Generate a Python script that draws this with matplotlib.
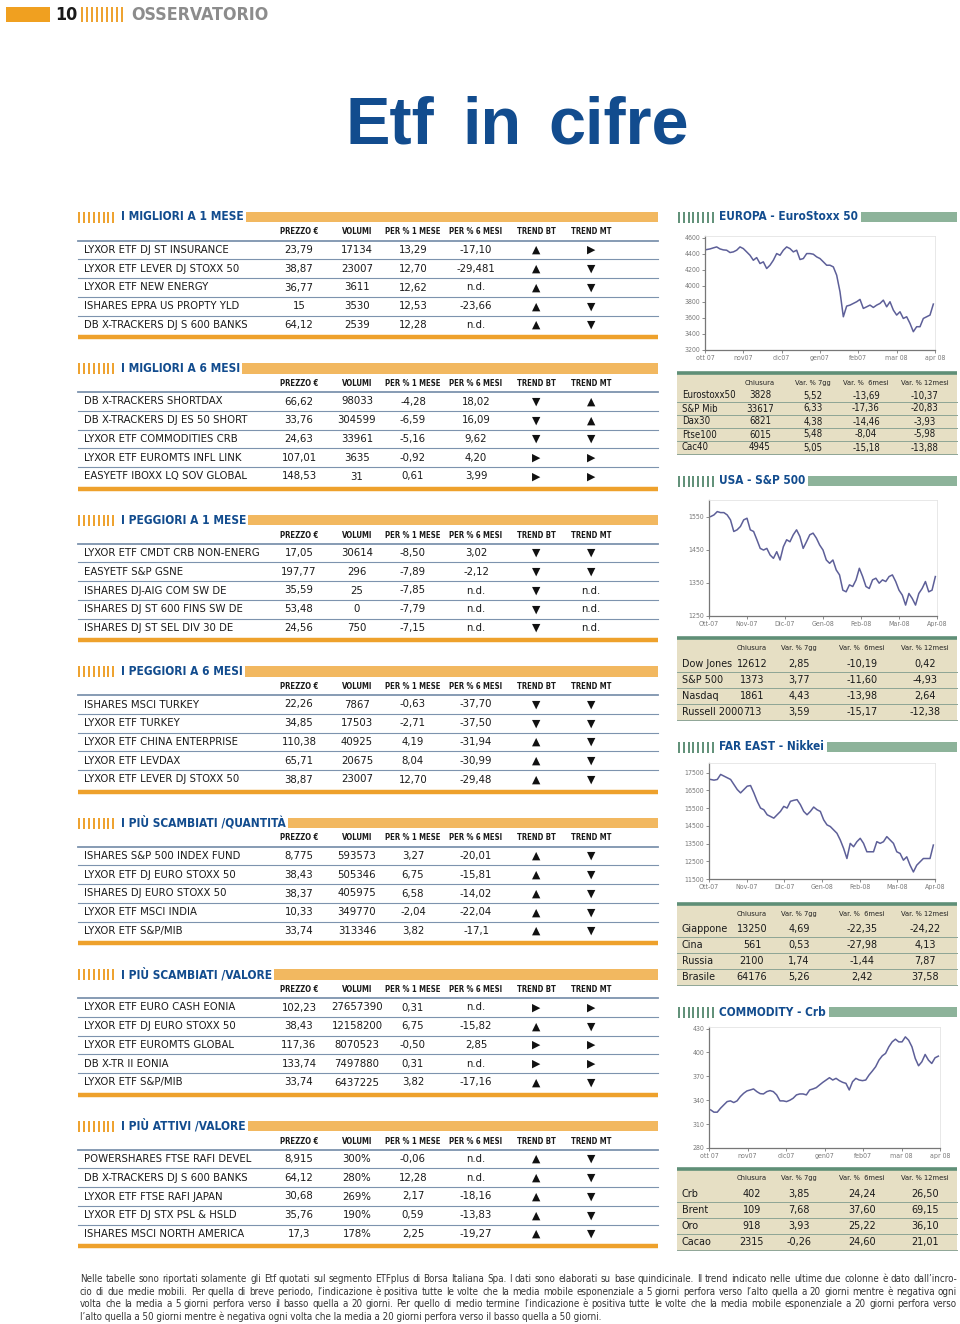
import matplotlib
matplotlib.use("Agg")
import matplotlib.pyplot as plt
from matplotlib import font_manager as fm
from matplotlib.patches import Rectangle
import numpy as np

W, H = 960, 1324
BLU = "#124c8e"
ARANCIO = "#eea12c"
ARANCIO_CHIARO = "#f2b860"
VERDE = "#8db39a"
VERDE_SCURO = "#5f8f77"
BEIGE = "#e6dfc4"
RIGA_BLU = "#7d93ae"
LINEA = "#5d5f98"

# font stretto: il primo disponibile
_nomi = {f.name for f in fm.fontManager.ttflist}
if "Liberation Sans Narrow" in _nomi:
    STRETTO = dict(family="Liberation Sans Narrow")
elif any(f.name == "DejaVu Sans" and f.stretch == "condensed" for f in fm.fontManager.ttflist):
    STRETTO = dict(family="DejaVu Sans", stretch="condensed")
else:
    STRETTO = dict(family="Liberation Sans")

# --- tabelle ETF (nome, prezzo, volumi, 1 mese, 6 mesi, trend bt, trend mt) ---
titoli_sezioni = ["I MIGLIORI A 1 MESE", "I MIGLIORI A 6 MESI", "I PEGGIORI A 1 MESE",
                  "I PEGGIORI A 6 MESI", "I PIÙ SCAMBIATI /QUANTITÀ",
                  "I PIÙ SCAMBIATI /VALORE", "I PIÙ ATTIVI /VALORE"]
intestazioni = ["PREZZO €", "VOLUMI", "PER % 1 MESE", "PER % 6 MESI", "TREND BT", "TREND MT"]

migliori_1_mese = [
    ("LYXOR ETF DJ ST INSURANCE", "23,79", "17134", "13,29", "-17,10", "su", "dx"),
    ("LYXOR ETF LEVER DJ STOXX 50", "38,87", "23007", "12,70", "-29,481", "su", "giu"),
    ("LYXOR ETF NEW ENERGY", "36,77", "3611", "12,62", "n.d.", "su", "giu"),
    ("ISHARES EPRA US PROPTY YLD", "15", "3530", "12,53", "-23,66", "su", "giu"),
    ("DB X-TRACKERS DJ S 600 BANKS", "64,12", "2539", "12,28", "n.d.", "su", "giu"),
]
migliori_6_mesi = [
    ("DB X-TRACKERS SHORTDAX", "66,62", "98033", "-4,28", "18,02", "giu", "su"),
    ("DB X-TRACKERS DJ ES 50 SHORT", "33,76", "304599", "-6,59", "16,09", "giu", "su"),
    ("LYXOR ETF COMMODITIES CRB", "24,63", "33961", "-5,16", "9,62", "giu", "giu"),
    ("LYXOR ETF EUROMTS INFL LINK", "107,01", "3635", "-0,92", "4,20", "dx", "dx"),
    ("EASYETF IBOXX LQ SOV GLOBAL", "148,53", "31", "0,61", "3,99", "dx", "dx"),
]
peggiori_1_mese = [
    ("LYXOR ETF CMDT CRB NON-ENERG", "17,05", "30614", "-8,50", "3,02", "giu", "giu"),
    ("EASYETF S&P GSNE", "197,77", "296", "-7,89", "-2,12", "giu", "giu"),
    ("ISHARES DJ-AIG COM SW DE", "35,59", "25", "-7,85", "n.d.", "giu", "nd"),
    ("ISHARES DJ ST 600 FINS SW DE", "53,48", "0", "-7,79", "n.d.", "giu", "nd"),
    ("ISHARES DJ ST SEL DIV 30 DE", "24,56", "750", "-7,15", "n.d.", "giu", "nd"),
]
peggiori_6_mesi = [
    ("ISHARES MSCI TURKEY", "22,26", "7867", "-0,63", "-37,70", "giu", "giu"),
    ("LYXOR ETF TURKEY", "34,85", "17503", "-2,71", "-37,50", "giu", "giu"),
    ("LYXOR ETF CHINA ENTERPRISE", "110,38", "40925", "4,19", "-31,94", "su", "giu"),
    ("LYXOR ETF LEVDAX", "65,71", "20675", "8,04", "-30,99", "su", "giu"),
    ("LYXOR ETF LEVER DJ STOXX 50", "38,87", "23007", "12,70", "-29,48", "su", "giu"),
]
scambiati_quantita = [
    ("ISHARES S&P 500 INDEX FUND", "8,775", "593573", "3,27", "-20,01", "su", "giu"),
    ("LYXOR ETF DJ EURO STOXX 50", "38,43", "505346", "6,75", "-15,81", "su", "giu"),
    ("ISHARES DJ EURO STOXX 50", "38,37", "405975", "6,58", "-14,02", "su", "giu"),
    ("LYXOR ETF MSCI INDIA", "10,33", "349770", "-2,04", "-22,04", "su", "giu"),
    ("LYXOR ETF S&P/MIB", "33,74", "313346", "3,82", "-17,1", "su", "giu"),
]
scambiati_valore = [
    ("LYXOR ETF EURO CASH EONIA", "102,23", "27657390", "0,31", "n.d.", "dx", "dx"),
    ("LYXOR ETF DJ EURO STOXX 50", "38,43", "12158200", "6,75", "-15,82", "su", "giu"),
    ("LYXOR ETF EUROMTS GLOBAL", "117,36", "8070523", "-0,50", "2,85", "dx", "dx"),
    ("DB X-TR II EONIA", "133,74", "7497880", "0,31", "n.d.", "dx", "dx"),
    ("LYXOR ETF S&P/MIB", "33,74", "6437225", "3,82", "-17,16", "su", "giu"),
]
attivi_valore = [
    ("POWERSHARES FTSE RAFI DEVEL", "8,915", "300%", "-0,06", "n.d.", "su", "giu"),
    ("DB X-TRACKERS DJ S 600 BANKS", "64,12", "280%", "12,28", "n.d.", "su", "giu"),
    ("LYXOR ETF FTSE RAFI JAPAN", "30,68", "269%", "2,17", "-18,16", "su", "giu"),
    ("LYXOR ETF DJ STX PSL & HSLD", "35,76", "190%", "0,59", "-13,83", "su", "giu"),
    ("ISHARES MSCI NORTH AMERICA", "17,3", "178%", "2,25", "-19,27", "su", "giu"),
]
simboli = {"su": "▲", "giu": "▼", "dx": "▶", "nd": "n.d."}

# --- indici (nome, chiusura, var 7gg, var 6 mesi, var 12 mesi) ---
intest_indici = ["Chiusura", "Var. % 7gg", "Var. %  6mesi", "Var. % 12mesi"]
europa_righe = [
    ("Eurostoxx50", "3828", "5,52", "-13,69", "-10,37"),
    ("S&P Mib", "33617", "6,33", "-17,36", "-20,83"),
    ("Dax30", "6821", "4,38", "-14,46", "-3,93"),
    ("Ftse100", "6015", "5,48", "-8,04", "-5,98"),
    ("Cac40", "4945", "5,05", "-15,18", "-13,88"),
]
usa_righe = [
    ("Dow Jones", "12612", "2,85", "-10,19", "0,42"),
    ("S&P 500", "1373", "3,77", "-11,60", "-4,93"),
    ("Nasdaq", "1861", "4,43", "-13,98", "2,64"),
    ("Russell 2000", "713", "3,59", "-15,17", "-12,38"),
]
fareast_righe = [
    ("Giappone", "13250", "4,69", "-22,35", "-24,22"),
    ("Cina", "561", "0,53", "-27,98", "4,13"),
    ("Russia", "2100", "1,74", "-1,44", "7,87"),
    ("Brasile", "64176", "5,26", "2,42", "37,58"),
]
commodity_righe = [
    ("Crb", "402", "3,85", "24,24", "26,50"),
    ("Brent", "109", "7,68", "37,60", "69,15"),
    ("Oro", "918", "3,93", "25,22", "36,10"),
    ("Cacao", "2315", "-0,26", "24,60", "21,01"),
]

# --- serie dei grafici (ott 07 - apr 08) ---
eurostoxx_valori = [4451, 4459, 4472, 4484, 4459, 4447, 4443, 4414, 4422, 4443, 4484, 4463,
                    4422, 4380, 4318, 4351, 4277, 4298, 4215, 4256, 4318, 4401, 4380, 4443,
                    4484, 4463, 4422, 4443, 4327, 4339, 4401, 4401, 4393, 4360, 4339, 4298,
                    4256, 4256, 4235, 4132, 3925, 3614, 3747, 3759, 3780, 3801, 3830, 3718,
                    3738, 3759, 3730, 3759, 3780, 3821, 3738, 3801, 3697, 3635, 3676, 3593,
                    3614, 3531, 3428, 3490, 3490, 3593, 3614, 3635, 3772]
sp500_valori = [1550, 1555, 1565, 1562, 1562, 1555, 1540, 1505, 1510, 1520, 1540, 1545,
                1510, 1505, 1480, 1454, 1449, 1454, 1434, 1424, 1444, 1419, 1459, 1480,
                1474, 1495, 1510, 1490, 1454, 1474, 1495, 1500, 1485, 1464, 1449, 1419,
                1409, 1419, 1389, 1374, 1328, 1323, 1344, 1339, 1359, 1394, 1369, 1339,
                1333, 1359, 1364, 1349, 1359, 1354, 1369, 1374, 1354, 1328, 1313, 1283,
                1318, 1303, 1283, 1318, 1333, 1354, 1323, 1328, 1369]
nikkei_valori = [17120, 17082, 17120, 17405, 17310, 17215, 17120, 16835, 16551, 16361, 16551,
                 16740, 16778, 16361, 15886, 15506, 15411, 15127, 15031, 14936, 15127, 15316,
                 15601, 15506, 15886, 15943, 15981, 15696, 15316, 15127, 15316, 15563, 15411,
                 15316, 14841, 14557, 14462, 14272, 14082, 13702, 13227, 12657, 13512, 13322,
                 13607, 13797, 13512, 13037, 13037, 13037, 13607, 13512, 13607, 13892, 13702,
                 13512, 13037, 12942, 12563, 12753, 12278, 11898, 12278, 12468, 12657, 12657,
                 12657, 13417]
crb_valori = [327.9, 325.0, 325.0, 330.0, 334.2, 338.3, 339.2, 337.1, 339.2, 344.6, 348.7,
              351.7, 352.9, 354.2, 350.8, 348.3, 347.9, 350.8, 352.1, 350.8, 346.7, 339.2,
              339.2, 338.3, 340.0, 342.5, 346.7, 347.9, 347.9, 346.7, 352.9, 354.2, 355.8,
              359.2, 362.5, 365.4, 368.3, 365.4, 367.5, 364.6, 362.5, 361.2, 352.9, 363.3,
              367.5, 365.4, 364.6, 365.4, 371.7, 376.7, 382.1, 390.4, 395.8, 398.8, 407.1,
              413.3, 416.7, 413.3, 413.3, 419.6, 415.4, 407.1, 392.5, 383.3, 388.3, 397.5,
              390.4, 386.2, 393.3, 395.4]
mesi_a = ["ott 07", "nov07", "dic07", "gen07", "feb07", "mar 08", "apr 08"]
mesi_b = ["Ott-07", "Nov-07", "Dic-07", "Gen-08", "Feb-08", "Mar-08", "Apr-08"]

nota = [
    "Nelle tabelle sono riportati solamente gli Etf quotati sul segmento ETFplus di Borsa Italiana Spa. I dati sono elaborati su base quindicinale. Il trend indicato nelle ultime due colonne è dato dall’incro-",
    "cio di due medie mobili. Per quella di breve periodo, l’indicazione è positiva tutte le volte che la media mobile esponenziale a 5 giorni perfora verso l’alto quella a 20 giorni mentre è negativa ogni",
    "volta che la media a 5 giorni perfora verso il basso quella a 20 giorni. Per quello di medio termine l’indicazione è positiva tutte le volte che la media mobile esponenziale a  20 giorni perfora verso",
    "l’alto quella a 50 giorni mentre è negativa ogni volta che la media a 20 giorni perfora verso il basso quella a 50 giorni.",
]

fig = plt.figure(figsize=(W / 100, H / 100), dpi=100)
ax = fig.add_axes([0, 0, 1, 1])
ax.set_xlim(0, W)
ax.set_ylim(H, 0)
ax.axis("off")
renderer = fig.canvas.get_renderer()


def larghezza(t):
    return t.get_window_extent(renderer).width


def taglia(testo, target, **kw):
    # corpo del font che dà al testo la larghezza voluta in pixel
    t = ax.text(0, 0, testo, fontsize=10, **STRETTO, **kw)
    w = larghezza(t)
    t.remove()
    return 10 * target / w


FS_NOME = taglia("LYXOR ETF DJ ST INSURANCE", 145)
FS_TIT = taglia("I MIGLIORI A 1 MESE", 122, weight="bold")
FS_INT = taglia("PER % 1 MESE", 56, weight="bold")
FS_DX_TIT = taglia("EUROPA - EuroStoxx 50", 138, weight="bold")
FS_EU = taglia("Eurostoxx50", 54)
FS_US = taglia("Dow Jones", 50)
FS_INT_DX = taglia("Chiusura", 30)
FS_NOTA = taglia(nota[3], 523)
FS_OSS = taglia("OSSERVATORIO", 137, weight="bold")


def barrette(x0, yc, n, colore, passo=4.9, alto=5.5):
    for k in range(n):
        ax.plot([x0 + k * passo] * 2, [yc - alto, yc + alto], color=colore, lw=1.4,
                solid_capstyle="butt")


# --- testata ---
ax.add_patch(Rectangle((6, 7), 44, 15, color="#f0a020", lw=0))
ax.text(55, 15, "10", **STRETTO, weight="bold", fontsize=FS_OSS, color="#1a1a1a", va="center")
barrette(82, 14.5, 9, ARANCIO, passo=5.0, alto=7.5)
ax.text(131, 15, "OSSERVATORIO", **STRETTO, weight="bold", fontsize=FS_OSS, color="#8c8c8c",
        va="center")

for parola, xp in [("Etf", 346), ("in", 462), ("cifre", 548)]:
    ax.text(xp, 127, parola, family="Liberation Sans", weight="bold", fontsize=48, color=BLU,
            va="center", ha="left")

# --- tabelle di sinistra ---
sezioni = [migliori_1_mese, migliori_6_mesi, peggiori_1_mese, peggiori_6_mesi,
           scambiati_quantita, scambiati_valore, attivi_valore]
col_x = [299, 357, 413, 476, 536, 591]

for s, (titolo, righe) in enumerate(zip(titoli_sezioni, sezioni)):
    y0 = 217 + s * 151.5
    barrette(79, y0, 8, ARANCIO)
    t = ax.text(121, y0, titolo, **STRETTO, weight="bold", fontsize=FS_TIT, color=BLU,
                va="center")
    xb = 121 + larghezza(t) + 2
    ax.add_patch(Rectangle((xb, y0 - 5.5), 658 - xb, 10.5, color=ARANCIO_CHIARO, lw=0))
    for c, testo in enumerate(intestazioni):
        ax.text(col_x[c], y0 + 15, testo, **STRETTO, weight="bold", fontsize=FS_INT,
                color="#1a1a1a", ha="center", va="center")
    ax.plot([78, 658], [y0 + 23.5, y0 + 23.5], color=RIGA_BLU, lw=1.3)
    for i, r in enumerate(righe):
        yr = y0 + 33 + i * 18.75
        ax.text(84, yr, r[0], **STRETTO, fontsize=FS_NOME, color="#1a1a1a", va="center")
        for c in range(4):
            ax.text(col_x[c], yr, r[c + 1], **STRETTO, fontsize=FS_NOME, color="#1a1a1a",
                    ha="center", va="center")
        for c in (4, 5):
            codice = r[c + 1]
            if codice == "nd":
                ax.text(col_x[c], yr, "n.d.", **STRETTO, fontsize=FS_NOME, color="#1a1a1a",
                        ha="center", va="center")
            else:
                ax.text(col_x[c], yr, simboli[codice], family="DejaVu Sans", fontsize=7.8,
                        color="#111111", ha="center", va="center")
        if i < len(righe) - 1:
            ax.plot([78, 658], [yr + 9.4, yr + 9.4], color=RIGA_BLU, lw=0.8)
    ax.plot([78, 658], [y0 + 120, y0 + 120], color=ARANCIO, lw=3.2, solid_capstyle="butt")


# --- pannelli di destra ---
def titolo_destro(y0, titolo):
    barrette(679, y0, 8, VERDE_SCURO, passo=4.8)
    t = ax.text(719, y0, titolo, **STRETTO, weight="bold", fontsize=FS_DX_TIT, color=BLU,
                va="center")
    xb = 719 + larghezza(t) + 3
    ax.add_patch(Rectangle((xb, y0 - 5), 957 - xb, 10, color=VERDE, lw=0))


def grafico(box, valori, ylim, yticks, xlabels):
    x0, y0, x1, y1 = box
    a = fig.add_axes([x0 / W, 1 - y1 / H, (x1 - x0) / W, (y1 - y0) / H])
    n = len(valori)
    a.plot(np.arange(n), valori, color=LINEA, lw=1.1)
    a.set_xlim(-0.5, n - 0.5)
    a.set_ylim(*ylim)
    a.set_xticks(np.linspace(-0.5, n - 0.5, len(xlabels)))
    a.set_xticklabels(xlabels)
    a.set_yticks(yticks)
    a.set_yticklabels([str(v) for v in yticks])
    for lato in ("top", "right"):
        a.spines[lato].set_color("#e4e4e4")
        a.spines[lato].set_linewidth(0.6)
    for lato in ("left", "bottom"):
        a.spines[lato].set_color("#777777")
        a.spines[lato].set_linewidth(0.9)
    a.tick_params(length=2, width=0.6, color="#777777", labelsize=5, labelcolor="#7a7a7a",
                  pad=1.5)
    for lab in a.get_xticklabels() + a.get_yticklabels():
        lab.set_fontproperties(fm.FontProperties(size=5, **STRETTO))
    return a


def tabella_destra(top, bottom, header_y, righe_y, righe, col, fs):
    ax.add_patch(Rectangle((677, top), 280, bottom - top, color=BEIGE, lw=0))
    ax.plot([677, 957], [top + 1, top + 1], color=VERDE_SCURO, lw=2.6, solid_capstyle="butt")
    for c, testo in enumerate(intest_indici):
        ax.text(col[c], header_y, testo, **STRETTO, fontsize=FS_INT_DX, color="#222222",
                ha="center", va="center")
    passo = righe_y[1] - righe_y[0]
    for yr, r in zip(righe_y, righe):
        ax.text(682, yr, r[0], **STRETTO, fontsize=fs, color="#1a1a1a", va="center")
        for c in range(4):
            ax.text(col[c], yr, r[c + 1], **STRETTO, fontsize=fs, color="#1a1a1a",
                    ha="center", va="center")
        ax.plot([677, 957], [yr + passo / 2 - 0.5] * 2, color="#8ea595", lw=0.7)


titolo_destro(217, "EUROPA - EuroStoxx 50")
grafico((705, 236, 935, 350), eurostoxx_valori, (3200, 4620),
        [3200, 3400, 3600, 3800, 4000, 4200, 4400, 4600], mesi_a)
tabella_destra(372, 455, 383, [395.5, 408.5, 421.5, 434.5, 447.5], europa_righe,
               [760, 813, 866, 925], FS_EU)

titolo_destro(481, "USA - S&P 500")
grafico((709, 500, 937, 616), sp500_valori, (1250, 1600), [1250, 1350, 1450, 1550], mesi_b)
tabella_destra(637, 720, 648, [664, 680, 696, 712], usa_righe, [752, 799, 862, 925], FS_US)

titolo_destro(747, "FAR EAST - Nikkei")
grafico((709, 763, 935, 879), nikkei_valori, (11500, 18050),
        [11500, 12500, 13500, 14500, 15500, 16500, 17500], mesi_b)
tabella_destra(903, 985, 914, [929, 945, 961, 977], fareast_righe, [752, 799, 862, 925], FS_US)

titolo_destro(1012, "COMMODITY - Crb")
grafico((709, 1027, 940, 1148), crb_valori, (280, 432), [280, 310, 340, 370, 400, 430], mesi_a)
tabella_destra(1168, 1250, 1178, [1194, 1210, 1226, 1242], commodity_righe,
               [752, 799, 862, 925], FS_US)

# --- nota a piè di pagina, giustificata ---
for i, riga in enumerate(nota):
    yr = 1279 + i * 12.7
    if i == len(nota) - 1:
        ax.text(80, yr, riga, **STRETTO, fontsize=FS_NOTA, color="#333333", va="center")
        continue
    pezzi = [ax.text(0, yr, p, **STRETTO, fontsize=FS_NOTA, color="#333333", va="center")
             for p in riga.split()]
    larg = [larghezza(p) for p in pezzi]
    spazio = (957 - 80 - sum(larg)) / (len(pezzi) - 1)
    xp = 80
    for p, w in zip(pezzi, larg):
        p.set_x(xp)
        xp += w + spazio

fig.savefig("out.png", dpi=100)
